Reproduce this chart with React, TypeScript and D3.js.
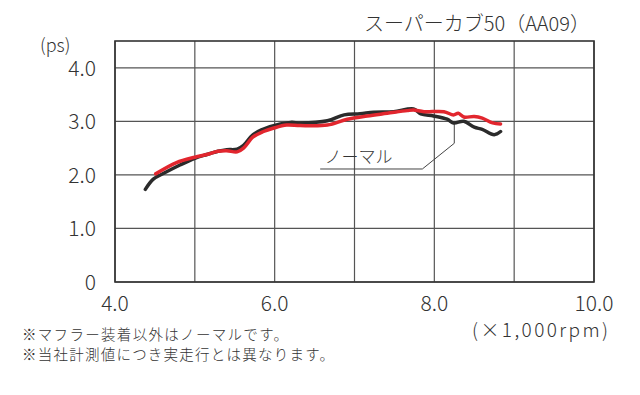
import React from "react";
import * as d3 from "d3";

// ノーマル (black)
const normalRpm = [4.38, 4.48, 4.61, 4.82, 5.0, 5.15, 5.29, 5.4, 5.53, 5.61, 5.73, 5.94, 6.2, 6.32, 6.66, 6.87, 7.07, 7.24, 7.49, 7.74, 7.83, 7.99, 8.16, 8.24, 8.37, 8.5, 8.6, 8.75, 8.83];
const normalPs = [1.73, 1.92, 2.03, 2.19, 2.31, 2.38, 2.44, 2.47, 2.48, 2.55, 2.75, 2.9, 2.98, 2.97, 3.01, 3.12, 3.14, 3.17, 3.18, 3.23, 3.14, 3.1, 3.04, 2.97, 3.0, 2.89, 2.85, 2.75, 2.81];

// マフラー装着 (red)
const mufflerRpm = [4.51, 4.77, 5.0, 5.15, 5.29, 5.4, 5.53, 5.61, 5.73, 5.86, 5.98, 6.15, 6.32, 6.66, 6.91, 7.16, 7.41, 7.66, 7.74, 7.87, 8.12, 8.24, 8.3, 8.37, 8.5, 8.6, 8.73, 8.83];
const mufflerPs = [2.02, 2.23, 2.33, 2.38, 2.44, 2.45, 2.43, 2.5, 2.71, 2.81, 2.87, 2.93, 2.92, 2.93, 3.04, 3.1, 3.15, 3.2, 3.21, 3.18, 3.18, 3.12, 3.15, 3.08, 3.09, 3.06, 2.97, 2.95];

const xTicks = [4, 5, 6, 7, 8, 9, 10];
const xLabels = ["4.0", "6.0", "8.0", "10.0"];
const yTicks = [0, 1, 2, 3, 4];
const yLabels = ["0", "1.0", "2.0", "3.0", "4.0"];

// leader line for ノーマル label
const leaderRpm = [6.57, 7.85, 8.25, 8.25];
const leaderPs = [2.11, 2.11, 2.59, 2.97];

const font = "'Noto Sans CJK JP', 'Noto Sans', sans-serif";

export default function App() {
  const width = 640;
  const height = 395;
  const margin = { left: 115, right: 46, top: 41, bottom: 113 };

  const x = d3.scaleLinear().domain([4, 10]).range([margin.left, width - margin.right]);
  const y = d3.scaleLinear().domain([0, 4.5]).range([height - margin.bottom, margin.top]);

  const line = d3
    .line<[number, number]>()
    .x((d) => x(d[0]))
    .y((d) => y(d[1]))
    .curve(d3.curveCatmullRom);

  const normal = normalRpm.map((r, i) => [r, normalPs[i]] as [number, number]);
  const muffler = mufflerRpm.map((r, i) => [r, mufflerPs[i]] as [number, number]);
  const leader = leaderRpm.map((r, i) => [r, leaderPs[i]] as [number, number]);
  const leaderLine = d3.line<[number, number]>().x((d) => x(d[0])).y((d) => y(d[1]));

  return (
    <svg width={width} height={height} style={{ position: "absolute", left: 0, top: 0 }}>
      <rect width={width} height={height} fill="#fff" />
      {xTicks.map((t) => (
        <line key={"vx" + t} x1={x(t)} x2={x(t)} y1={y(0)} y2={y(4.5)} stroke="#555" strokeWidth={1.2} />
      ))}
      {yTicks.map((t) => (
        <line key={"hy" + t} x1={x(4)} x2={x(10)} y1={y(t)} y2={y(t)} stroke="#555" strokeWidth={1.2} />
      ))}
      <rect x={x(4)} y={y(4.5)} width={x(10) - x(4)} height={y(0) - y(4.5)} fill="none" stroke="#333" strokeWidth={1.6} />

      <path d={leaderLine(leader) || ""} fill="none" stroke="#444" strokeWidth={1} />
      <text x={x(7.05)} y={y(2.22)} textAnchor="middle" fontFamily={font} fontSize={17} fontWeight={300} fill="#333">
        ノーマル
      </text>

      <path d={line(normal) || ""} fill="none" stroke="#2b2b2b" strokeWidth={3.5} strokeLinecap="round" />
      <path d={line(muffler) || ""} fill="none" stroke="#e2262e" strokeWidth={3.5} strokeLinecap="round" />

      {yTicks.map((t, i) => (
        <text key={"yl" + t} x={96} y={y(t) + 8} textAnchor="end" fontFamily={font} fontSize={21} fontWeight={300} fill="#333">
          {yLabels[i]}
        </text>
      ))}
      {xLabels.map((l) => (
        <text key={"xl" + l} x={x(parseFloat(l))} y={311} textAnchor="middle" fontFamily={font} fontSize={21} fontWeight={300} fill="#333">
          {l}
        </text>
      ))}
      <text x={40} y={52} fontFamily={font} fontSize={18} fontWeight={300} fill="#333">(ps)</text>
      <text x={364} y={31} textLength={226} lengthAdjust="spacing" fontFamily={font} fontSize={20} fontWeight={300} fill="#333">
        スーパーカブ50（AA09）
      </text>
      <text x={472} y={337} textLength={136} lengthAdjust="spacing" fontFamily={font} fontSize={19} fontWeight={300} fill="#333">
        (×1,000rpm)
      </text>
      <text x={22} y={340} textLength={266} lengthAdjust="spacing" fontFamily={font} fontSize={14.5} fontWeight={300} fill="#333">
        ※マフラー装着以外はノーマルです。
      </text>
      <text x={22} y={360} textLength={312} lengthAdjust="spacing" fontFamily={font} fontSize={14.5} fontWeight={300} fill="#333">
        ※当社計測値につき実走行とは異なります。
      </text>
    </svg>
  );
}
